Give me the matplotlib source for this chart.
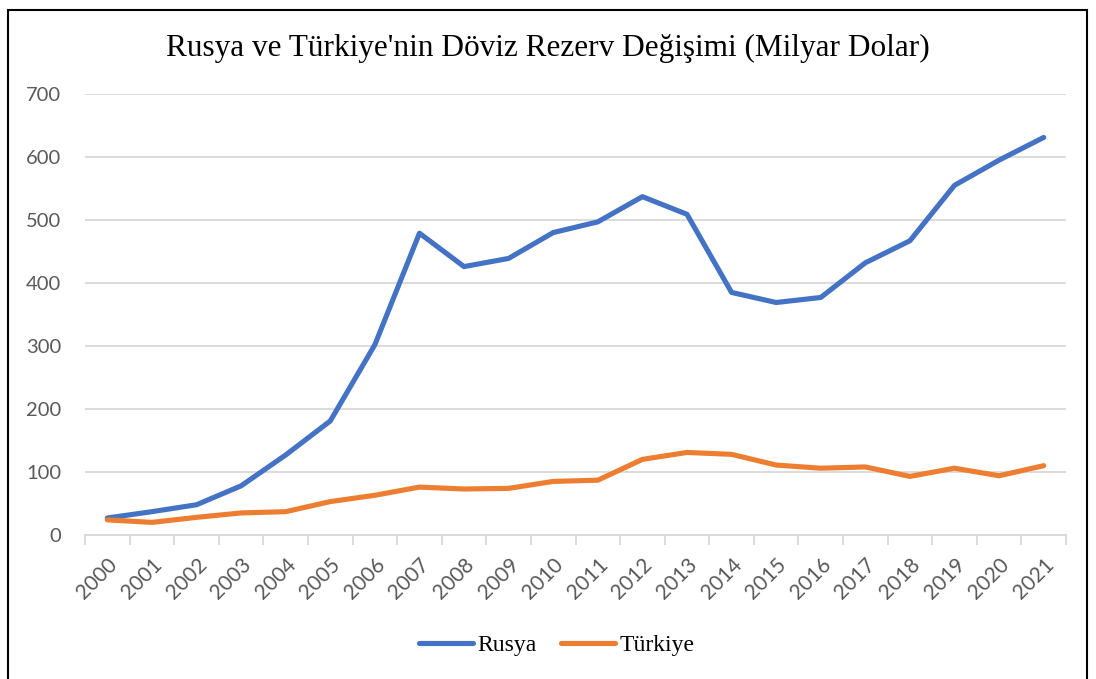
import matplotlib
matplotlib.use('Agg')
import matplotlib.pyplot as plt
from matplotlib.patches import Rectangle
import numpy as np

years = [str(y) for y in range(2000, 2022)]
rusya = [27, 37, 48, 78, 127, 181, 302, 479, 426, 439, 480,
         497, 537, 509, 385, 369, 377, 432, 467, 555, 595, 631]
turkiye = [24, 20, 28, 35, 37, 53, 63, 76, 73, 74, 85,
           87, 120, 131, 128, 111, 106, 108, 93, 106, 94, 110]

blue = '#4472C4'
orange = '#ED7D31'
grid_col = '#D9D9D9'
tick_col = '#595959'

fig = plt.figure(figsize=(10.96, 6.79), dpi=100)
ax = fig.add_axes([0.0776, 0.2121, 0.8950, 0.6495])

x = np.arange(len(years))
ax.plot(x, rusya, color=blue, lw=3.7, label='Rusya', solid_capstyle='round')
ax.plot(x, turkiye, color=orange, lw=3.7, label='Türkiye', solid_capstyle='round')

ax.set_xlim(-0.5, len(years) - 0.5)
ax.set_ylim(0, 700)
ax.set_yticks(range(0, 701, 100))
ax.yaxis.grid(True, color=grid_col, lw=1.3)
ax.set_axisbelow(True)

ax.set_xticks(x)
ax.set_xticklabels(years, rotation=45, ha='right', rotation_mode='anchor',
                   fontsize=15, color=tick_col, family='Lato')
ax.set_xticks(np.arange(-0.5, len(years)), minor=True)
ax.tick_params(axis='x', which='major', length=0, pad=14)
ax.tick_params(axis='x', which='minor', length=7, color=grid_col, width=1.3)
ax.tick_params(axis='y', length=0, labelsize=14.5, labelcolor=tick_col, pad=17)
for lbl in ax.get_yticklabels():
    lbl.set_family('Lato')

for s in ['top', 'right', 'left']:
    ax.spines[s].set_visible(False)
ax.spines['bottom'].set_color(grid_col)
ax.spines['bottom'].set_linewidth(1.3)

fig.text(0.5, 0.929, "Rusya ve Türkiye'nin Döviz Rezerv Değişimi (Milyar Dolar)",
         ha='center', va='center', fontsize=22.5, family='Liberation Serif')

leg = fig.legend(loc='center', bbox_to_anchor=(0.508, 0.049), ncol=2, frameon=False,
                 prop={'family': 'Liberation Serif', 'size': 17},
                 handlelength=2.3, columnspacing=1.0, handletextpad=0.2)

# chart border
fig.patches.append(Rectangle((8 / 1096, -0.05), (1087 - 8) / 1096, 1 - 10 / 679 + 0.05,
                             transform=fig.transFigure, fill=False,
                             edgecolor='black', lw=1.5))

fig.savefig('out.png', dpi=100)
